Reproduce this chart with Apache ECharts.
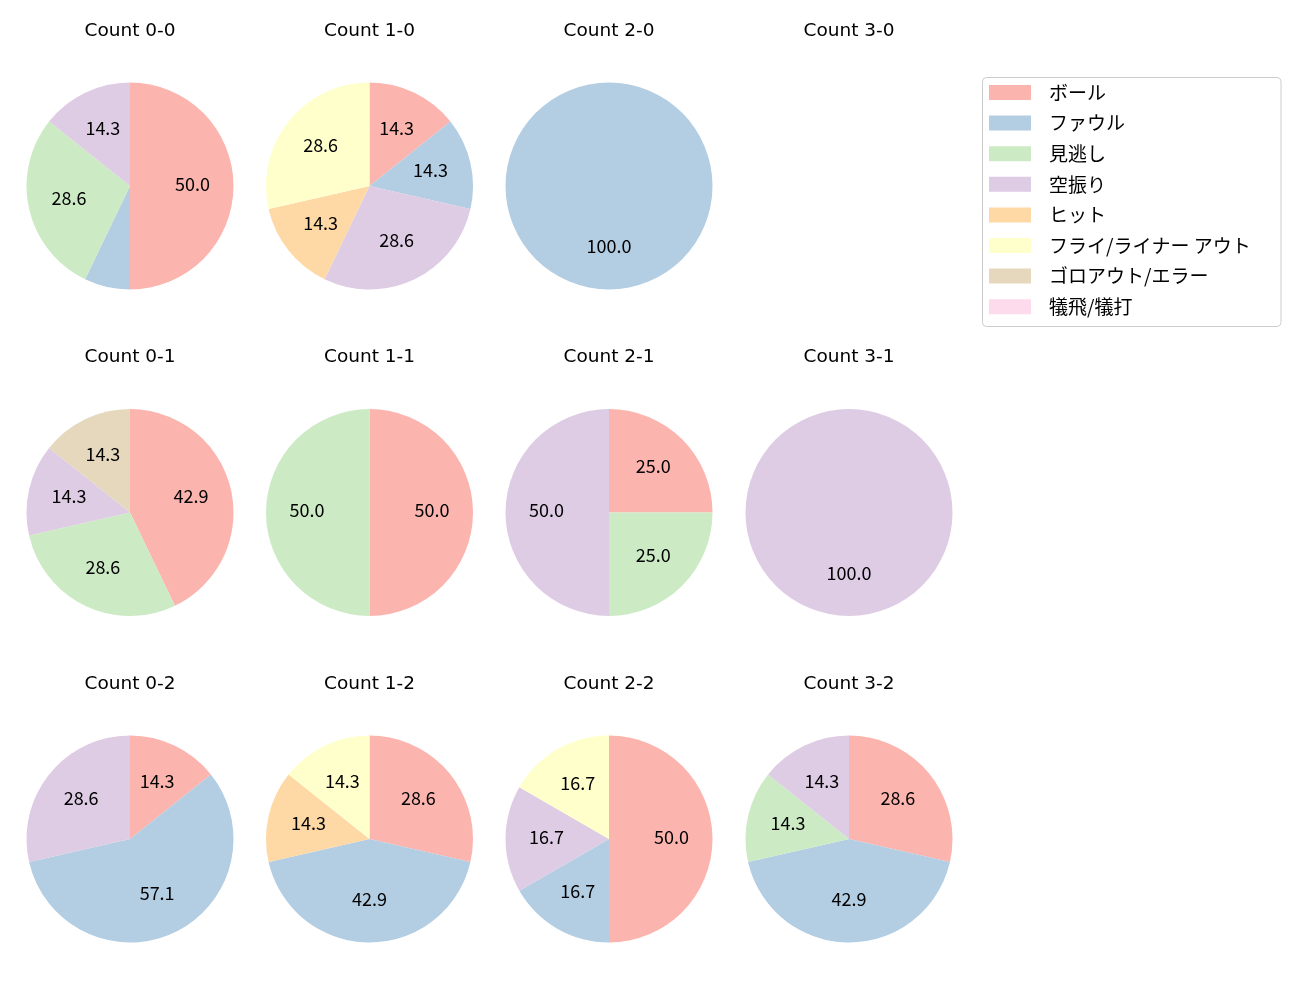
<!DOCTYPE html>
<html><head><meta charset="utf-8">
<script src="https://cdn.jsdelivr.net/npm/echarts@6/dist/echarts.min.js"></script>
<style>html,body{margin:0;padding:0;background:#fff}#c{width:1300px;height:1000px}</style>
</head><body><div id="c"></div>
<script>
const categories = ['ボール','ファウル','見逃し','空振り','ヒット','フライ/ライナー アウト','ゴロアウト/エラー','犠飛/犠打'];
const colors = ['#fbb4ae','#b3cde3','#ccebc5','#decbe4','#fed9a6','#ffffcc','#e5d8bd','#fddaec'];
const panelTitles = ['Count 0-0','Count 1-0','Count 2-0','Count 3-0','Count 0-1','Count 1-1','Count 2-1','Count 3-1','Count 0-2','Count 1-2','Count 2-2','Count 3-2'];
const count00 = [7,1,4,2,0,0,0,0];
const count10 = [1,1,0,2,1,2,0,0];
const count20 = [0,1,0,0,0,0,0,0];
const count30 = [0,0,0,0,0,0,0,0];
const count01 = [3,0,2,1,0,0,1,0];
const count11 = [1,0,1,0,0,0,0,0];
const count21 = [1,0,1,2,0,0,0,0];
const count31 = [0,0,0,1,0,0,0,0];
const count02 = [1,4,0,2,0,0,0,0];
const count12 = [2,3,0,0,1,1,0,0];
const count22 = [3,1,0,1,0,1,0,0];
const count32 = [2,3,1,1,0,0,0,0];
const panelData = [count00,count10,count20,count30,count01,count11,count21,count31,count02,count12,count22,count32];

const cxs = [130, 369.5, 609, 849];
const cys = [186, 512.5, 839];
const titleYs = [31, 357.5, 684];
const R = 103.5;
const FONT = '"Noto Sans CJK JP","Noto Sans",sans-serif';
const TFONT = '"DejaVu Sans","Noto Sans CJK JP",sans-serif';

const series = [];
const graphics = [];
panelData.forEach((vals, i) => {
  const col = i % 4, row = Math.floor(i / 4);
  graphics.push({type:'text', x: cxs[col], y: titleYs[row], style:{text: panelTitles[i], fill:'#000', font: '18.5px ' + TFONT, textAlign:'center', textVerticalAlign:'middle'}});
  const total = vals.reduce((a,b)=>a+b,0);
  if (total === 0) return;
  const data = categories.map((c,k)=>({name:c, value: vals[k], itemStyle:{color: colors[k]}}));
  series.push({
    type:'pie', center:[cxs[col], cys[row]], radius:[0, R], startAngle:90, clockwise:true,
    data, label:{show:false}, labelLine:{show:false}, itemStyle:{borderWidth:0},
    emphasis:{disabled:true}, stillShowZeroSum:false, animation:false
  });
  series.push({
    type:'pie', center:[cxs[col], cys[row] - 2], radius:[R*0.15, R], startAngle:90, clockwise:true,
    data: categories.map((c,k)=>({name:c, value: vals[k], itemStyle:{color:'rgba(0,0,0,0)'}})),
    silent:true, legendHoverLink:false, itemStyle:{borderWidth:0}, emphasis:{disabled:true}, animation:false,
    labelLine:{show:false}, minShowLabelAngle:0,
    label:{show:true, position:'inside', color:'#000', fontSize:18, fontFamily: FONT,
      formatter: p => { const pct = p.value/total*100; return pct >= 10 ? pct.toFixed(1) : ''; }}
  });
});

graphics.push({type:'rect', z:-1, shape:{x:982.5, y:77.5, width:298.5, height:249, r:4}, style:{fill:'#fff', stroke:'#cccccc', lineWidth:1}});

const chart = echarts.init(document.getElementById('c'), null, {renderer:'canvas'});
chart.setOption({
  animation:false,
  color: colors,
  legend:{
    data: categories, orient:'vertical', left:989, top:83, padding:0,
    itemWidth:42, itemHeight:15, itemGap:11.6, icon:'rect', selectedMode:false,
    textStyle:{fontSize:19, color:'#000', fontFamily: FONT, padding:[0,0,0,13]}
  },
  graphic: graphics,
  series
});
</script></body></html>
